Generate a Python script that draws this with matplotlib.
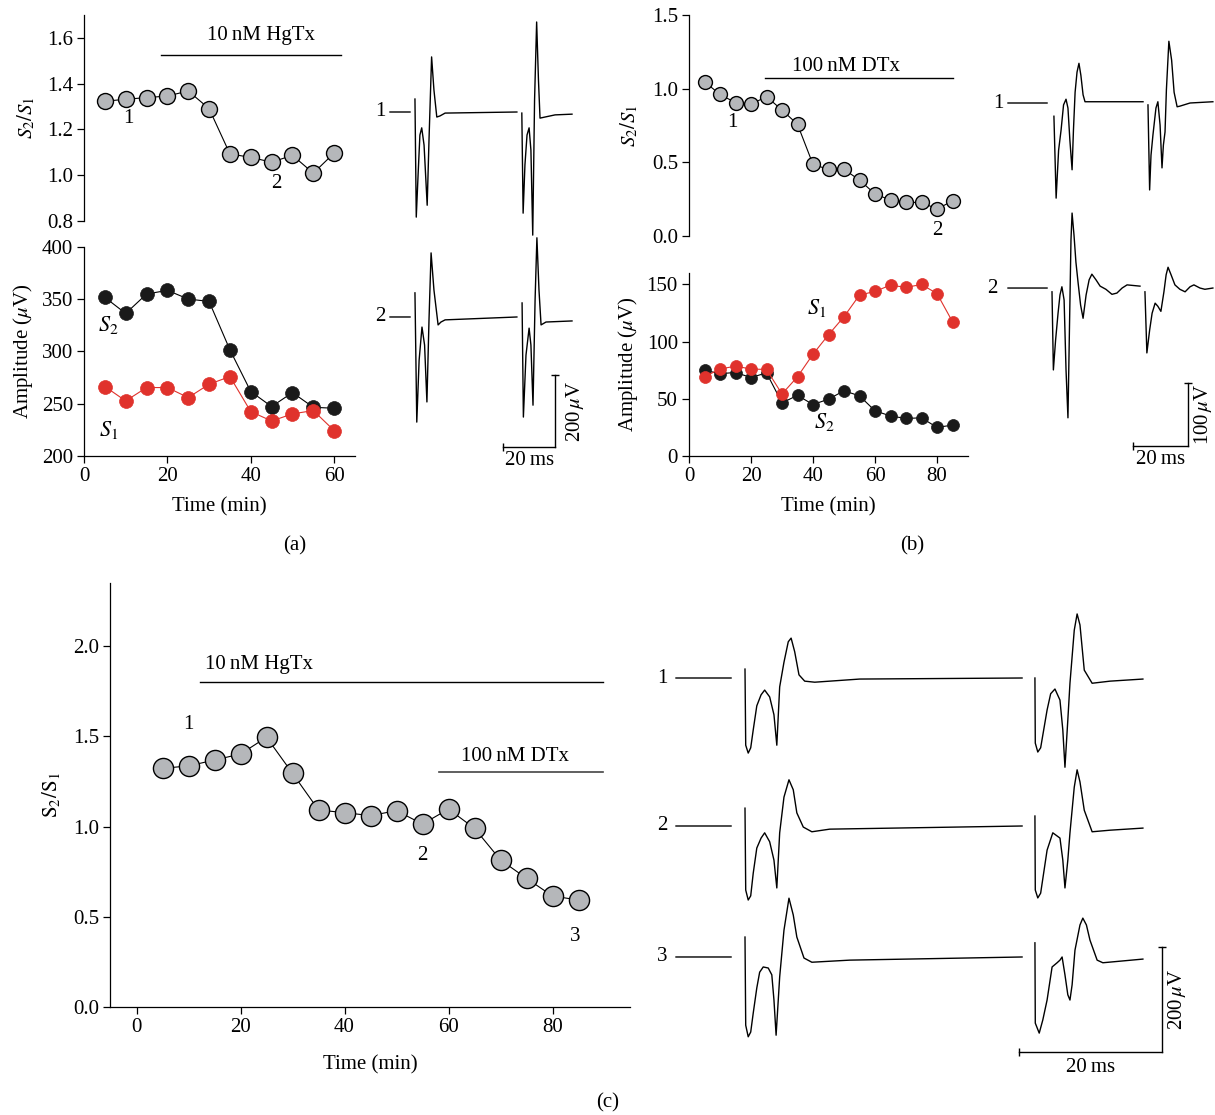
import numpy as np
import matplotlib
matplotlib.use("Agg")
import matplotlib.pyplot as plt

nan = np.nan

# ---------------- data ----------------
# panel (a): HgTx
a_time = [5, 10, 15, 20, 25, 30, 35, 40, 45, 50, 55, 60]
a_ratio = [1.323, 1.332, 1.339, 1.346, 1.368, 1.291, 1.093, 1.078, 1.057, 1.087, 1.009, 1.097]
a_s2 = [351.8, 336.4, 355.0, 358.5, 350.2, 347.9, 301.6, 261.7, 247.3, 260.7, 246.6, 245.7]
a_s1 = [266.5, 252.7, 265.5, 265.5, 255.9, 268.7, 276.0, 242.5, 233.5, 240.3, 243.5, 224.3]
a_drug = (18.5, 61.6)

# panel (b): DTx
b_time = [5, 10, 15, 20, 25, 30, 35, 40, 45, 50, 55, 60, 65, 70, 75, 80, 85]
b_ratio = [1.047, 0.961, 0.905, 0.894, 0.946, 0.855, 0.758, 0.486, 0.452, 0.452,
           0.380, 0.285, 0.244, 0.228, 0.228, 0.183, 0.238]
b_s2 = [75, 72, 73, 68.6, 72.7, 46.5, 53, 45, 49.7, 57, 52.6, 39.5, 35, 32.8, 33.4, 25, 27]
b_s1 = [69.3, 76, 78.6, 76, 75.7, 54.2, 69.3, 89, 106, 121.8, 140.7, 143.9, 149.4,
        147.4, 150, 142, 117.4]
b_drug = (24.5, 85.2)

# panel (c): HgTx then DTx
c_time = [5, 10, 15, 20, 25, 30, 35, 40, 45, 50, 55, 60, 65, 70, 75, 80, 85]
c_ratio = [1.323, 1.336, 1.369, 1.402, 1.495, 1.295, 1.092, 1.077, 1.061, 1.088,
           1.014, 1.097, 0.990, 0.815, 0.713, 0.615, 0.593]
c_hgtx = (12.2, 89.7)
c_dtx = (58.1, 89.7)

# example field potential traces (time in ms, voltage in uV relative to baseline)
a1_t = [0, 7.7, nan, 9.6, 10.1, 10.8, 11.5, 12.2, 13.1, 14.3, 15.0, 16.0, 16.9, 18.0, 19.2, 21.2, 48.8,
        nan, 50.7, 51.2, 51.9, 52.7, 53.5, 54.2, 54.9, 55.6, 56.4, 57.1, 57.7, 59.6, 63.5, 70]
a1_v = [0, 0, nan, 36, -292, -175, -64, -44, -92, -259, -78, 153, 61, -14, -11, -3, 0,
        nan, -3, -281, -147, -64, -44, -106, -342, 33, 250, 89, -17, -14, -8, -6]
a2_t = [0, 7.7, nan, 9.6, 10.3, 11.2, 12.3, 13.3, 14.2, 15.0, 15.8, 16.9, 18.5, 19.6, 21.2, 48.8,
        nan, 50.8, 51.3, 52.3, 53.5, 54.2, 55.0, 55.8, 56.5, 57.3, 58.1, 60.0, 70]
a2_v = [0, 0, nan, 67, -292, -120, -28, -78, -236, -8, 178, 75, -22, -14, -8, 0,
        nan, 39, -278, -106, -31, -78, -245, 47, 220, 75, -22, -14, -11]

b1_t = [0, 14.2, nan, 16.7, 17.5, 18.4, 19.3, 20.2, 21.1, 21.8, 22.5, 23.3, 23.8, 24.4, 25.1, 25.8, 26.5,
        27.3, 28.0, 49.1, nan, 50.9, 51.5, 52.0, 52.7, 53.8, 54.5, 55.3, 56.0, 56.5, 57.1, 57.6, 58.5,
        59.5, 60.4, 61.5, 62.5, 66.2, 74.5]
b1_v = [0, 0, nan, -21, -151, -75, -43, -3, 6, -8, -59, -106, -43, 17, 49, 63, 44,
        13, 2, 2, nan, -3, -138, -83, -51, -8, 2, -35, -103, -67, -46, 21, 98,
        68, 17, -6, -5, 0, 2]
b2_t = [0, 14.2, nan, 16.0, 16.5, 17.3, 18.2, 18.9, 19.6, 20.4, 21.1, 21.8, 22.4, 22.9, 23.3, 24.0, 24.7,
        25.5, 26.4, 27.3, 28.4, 29.5, 30.5, 32.0, 33.5, 35.6, 37.8, 39.6, 41.5, 43.3, 48.0,
        nan, 49.8, 50.5, 51.5, 52.4, 53.5, 54.5, 55.6, 56.7, 57.5, 58.2, 59.3, 60.7, 62.5, 64.4,
        66.2, 67.6, 69.8, 71.6, 74.5]
b2_v = [0, 0, nan, -6, -130, -83, -40, -11, 2, -19, -130, -206, -51, 76, 119, 84, 41,
        8, -27, -48, -11, 13, 22, 13, 3, -2, -10, -8, 0, 5, 3,
        nan, -6, -103, -67, -40, -24, -29, -37, -6, 21, 33, 21, 5, -2, -6,
        2, 5, 0, -2, 0]

c1_t = [0, 7.7, nan, 9.65, 9.75, 10.1, 10.45, 10.8, 11.3, 11.9, 12.4, 13.1, 13.7, 14.1, 14.5, 15.1, 15.7,
        16.1, 16.6, 17.2, 18.0, 19.4, 25.7, 48.4, nan, 50.2, 50.25, 50.6, 51.0, 51.9, 52.4, 53.0, 53.7,
        54.1, 54.4, 54.8, 55.1, 55.7, 56.1, 56.5, 57.1, 58.2, 60.7, 65.3]
c1_v = [0, 0, nan, 17, -128, -143, -133, -99, -53, -32, -23, -36, -70, -128, -17, 30, 69,
        76, 50, 6, -6, -8, -2, 0, nan, 0, -124, -141, -133, -61, -30, -21, -42,
        -99, -170, -80, -10, 91, 122, 101, 15, -10, -6, -2]
c2_t = [0, 7.7, nan, 9.65, 9.75, 10.1, 10.45, 10.8, 11.3, 11.9, 12.4, 13.1, 13.7, 14.1, 14.5, 15.1, 15.8,
        16.4, 16.9, 17.8, 19.0, 21.5, 48.4, nan, 50.2, 50.25, 50.6, 51.0, 51.9, 52.7, 53.7, 54.1,
        54.4, 54.8, 55.1, 55.7, 56.1, 56.5, 57.1, 58.2, 60.7, 65.3]
c2_v = [0, 0, nan, 34, -122, -141, -133, -90, -42, -23, -13, -30, -65, -118, -13, 55, 88,
        69, 25, -2, -11, -6, 0, nan, 19, -122, -137, -128, -46, -13, -23, -65,
        -118, -65, -13, 74, 107, 84, 30, -11, -8, -4]
c3_t = [0, 7.7, nan, 9.65, 9.75, 10.1, 10.45, 10.8, 11.3, 11.7, 12.2, 12.9, 13.4, 13.7, 14.0, 14.5,
        15.1, 15.8, 16.4, 16.9, 17.9, 19.0, 24.3, 48.4, nan, 50.2, 50.25, 50.8, 51.3, 51.9, 52.6, 53.3,
        53.7, 54.0, 54.4, 54.8, 55.1, 55.4, 55.8, 56.5, 56.9, 57.4, 57.9, 58.9, 59.7, 65.3]
c3_v = [0, 0, nan, 38, -130, -152, -143, -107, -59, -29, -19, -21, -34, -82, -149, -38,
        51, 112, 80, 38, -2, -10, -6, 0, nan, 27, -126, -145, -120, -82, -19, -11,
        -6, 0, -34, -72, -82, -53, 13, 61, 74, 61, 32, -6, -11, -4]

# ---------------- style ----------------
plt.rcParams['font.family'] = ['Liberation Serif', 'DejaVu Serif']
plt.rcParams['mathtext.fontset'] = 'stix'
plt.rcParams['font.size'] = 15

GRAY = '#b5b7ba'
RED = '#e0322c'
BLACK = '#1a1a1a'
FS = 15

W, H = 1215, 1115
fig = plt.figure(figsize=(W / 100, H / 100), dpi=100)


def rect(l, t, r, b):
    return [l / W, 1 - b / H, (r - l) / W, (b - t) / H]


def style(ax, bottom=True):
    ax.spines['top'].set_visible(False)
    ax.spines['right'].set_visible(False)
    for s in ('left', 'bottom'):
        ax.spines[s].set_linewidth(0.9)
    ax.tick_params(direction='out', length=5, width=0.9, labelsize=FS, pad=3)
    if not bottom:
        ax.spines['bottom'].set_visible(False)
        ax.tick_params(axis='x', bottom=False, labelbottom=False)
    ax.patch.set_alpha(0)


def ratio_plot(ax, t, r, ms):
    ax.plot(t, r, color='black', lw=0.8, zorder=2, clip_on=False)
    ax.plot(t, r, 'o', ms=ms, mfc=GRAY, mec='black', mew=1.0, zorder=3, ls='none', clip_on=False)


def amp_plot(ax, t, s2, s1, ms):
    ax.plot(t, s2, color='black', lw=0.8, zorder=2, clip_on=False)
    ax.plot(t, s2, 'o', ms=ms, mfc=BLACK, mec=BLACK, mew=0.5, ls='none', zorder=3, clip_on=False)
    ax.plot(t, s1, color=RED, lw=0.8, zorder=4, clip_on=False)
    ax.plot(t, s1, 'o', ms=ms, mfc=RED, mec=RED, mew=0.5, ls='none', zorder=5, clip_on=False)


def fmt1(ax, ticks):
    ax.set_yticks(ticks)
    ax.set_yticklabels([f'{v:.1f}' for v in ticks])


# ---------------- panel (a) ----------------
ax = fig.add_axes(rect(84, 15, 355, 221))
style(ax, bottom=False)
ax.set_xlim(0, 65)
ax.set_ylim(0.8, 1.7)
fmt1(ax, [0.8, 1.0, 1.2, 1.4, 1.6])
ratio_plot(ax, a_time, a_ratio, 11.5)
ax.plot(a_drug, [1.526, 1.526], color='black', lw=1.0, clip_on=False)
ax.text(42.4, 1.61, '10\u2009nM HgTx', ha='center', va='center', fontsize=FS)
ax.text(10.6, 1.248, '1', ha='center', va='center', fontsize=FS)
ax.text(46.2, 0.965, '2', ha='center', va='center', fontsize=FS)
ax.set_ylabel(r'$S_2/S_1$', fontsize=FS, labelpad=7)

ax = fig.add_axes(rect(84, 247, 355, 456))
style(ax)
ax.set_xlim(0, 65)
ax.set_ylim(200, 400)
ax.set_yticks([200, 250, 300, 350, 400])
ax.set_xticks([0, 20, 40, 60])
amp_plot(ax, a_time, a_s2, a_s1, 10)
ax.text(5.8, 325, r'$S_2$', ha='center', va='center', fontsize=FS + 1)
ax.text(5.8, 225, r'$S_1$', ha='center', va='center', fontsize=FS + 1)
ax.set_ylabel(r'Amplitude ($\mu$V)', fontsize=FS, labelpad=5)
ax.set_xlabel('Time (min)', fontsize=FS, labelpad=8)

# ---------------- panel (b) ----------------
ax = fig.add_axes(rect(689, 15, 968, 236))
style(ax, bottom=False)
ax.set_xlim(0, 90)
ax.set_ylim(0, 1.5)
fmt1(ax, [0.0, 0.5, 1.0, 1.5])
ratio_plot(ax, b_time, b_ratio, 10)
ax.plot(b_drug, [1.07, 1.07], color='black', lw=1.0, clip_on=False)
ax.text(50.8, 1.15, '100\u2009nM DTx', ha='center', va='center', fontsize=FS)
ax.text(14.1, 0.77, '1', ha='center', va='center', fontsize=FS)
ax.text(80.0, 0.04, '2', ha='center', va='center', fontsize=FS)
ax.set_ylabel(r'$S_2/S_1$', fontsize=FS, labelpad=8)

ax = fig.add_axes(rect(689, 273, 968, 456))
style(ax)
ax.set_xlim(0, 90)
ax.set_ylim(0, 160)
ax.set_yticks([0, 50, 100, 150])
ax.set_xticks([0, 20, 40, 60, 80])
amp_plot(ax, b_time, b_s2, b_s1, 8.6)
ax.text(41.2, 129, r'$S_1$', ha='center', va='center', fontsize=FS + 1)
ax.text(43.7, 29.6, r'$S_2$', ha='center', va='center', fontsize=FS + 1)
ax.set_ylabel(r'Amplitude ($\mu$V)', fontsize=FS, labelpad=5)
ax.set_xlabel('Time (min)', fontsize=FS, labelpad=8)

# ---------------- panel (c) ----------------
ax = fig.add_axes(rect(110, 583, 630, 1007))
style(ax)
ax.set_xlim(-5.1, 94.9)
ax.set_ylim(0, 2.35)
fmt1(ax, [0.0, 0.5, 1.0, 1.5, 2.0])
ax.set_xticks([0, 20, 40, 60, 80])
ratio_plot(ax, c_time, c_ratio, 14.5)
ax.plot(c_hgtx, [1.803, 1.803], color='black', lw=1.0, clip_on=False)
ax.plot(c_dtx, [1.30, 1.30], color='#444444', lw=1.2, clip_on=False)
ax.text(13.1, 1.896, '10\u2009nM HgTx', ha='left', va='center', fontsize=FS)
ax.text(72.8, 1.386, '100\u2009nM DTx', ha='center', va='center', fontsize=FS)
ax.text(9.9, 1.563, '1', ha='center', va='center', fontsize=FS)
ax.text(55.0, 0.837, '2', ha='center', va='center', fontsize=FS)
ax.text(84.4, 0.388, '3', ha='center', va='center', fontsize=FS)
ax.set_ylabel(r'$\mathrm{S_2/S_1}$', fontsize=FS, labelpad=8)
ax.set_xlabel('Time (min)', fontsize=FS, labelpad=13)


# ---------------- traces ----------------
def trace_axes(box, origin, px_per_ms, px_per_uv):
    l, t, r, b = box
    x0, y0 = origin
    tax = fig.add_axes(rect(l, t, r, b))
    tax.set_xlim((l - x0) / px_per_ms, (r - x0) / px_per_ms)
    tax.set_ylim((y0 - b) / px_per_uv, (y0 - t) / px_per_uv)
    tax.axis('off')
    return tax


def scalebar(tax, t_end, v_base, t_len, v_len, tlab, vlab, tlab_dv, vlab_dt):
    tax.plot([t_end - t_len, t_end], [v_base, v_base], color='black', lw=1.0)
    tax.plot([t_end, t_end], [v_base, v_base + v_len], color='black', lw=1.0)
    tax.plot([t_end - t_len], [v_base], marker='|', ms=6, mew=1.0, color='black')
    tax.plot([t_end], [v_base + v_len], marker='_', ms=6, mew=1.0, color='black')
    tax.text(t_end - t_len / 2, v_base - tlab_dv, tlab, ha='center', va='top', fontsize=FS)
    tax.text(t_end + vlab_dt, v_base + v_len / 2, vlab, ha='center', va='center',
             rotation=90, fontsize=FS)


LW_TR = 1.0

# (a) traces
tax = trace_axes((372, 10, 592, 478), (390, 112), 2.6, 0.36)
a_off = [0, -569.4]
tax.plot(a1_t, np.array(a1_v) + a_off[0], color='black', lw=LW_TR)
tax.plot(a2_t, np.array(a2_v) + a_off[1], color='black', lw=LW_TR)
for lab, off in zip(['1', '2'], a_off):
    tax.text(-1.9, off, lab, ha='right', va='center', fontsize=FS)
scalebar(tax, 63.5, -931, 20, 200, '20\u2009ms', r'200$\,\mu$V', 10, 7.7)

# (b) traces
tax = trace_axes((985, 10, 1215, 478), (1008, 103), 2.75, 0.63)
b_off = [0, -293.7]
tax.plot(b1_t, np.array(b1_v) + b_off[0], color='black', lw=LW_TR)
tax.plot(b2_t, np.array(b2_v) + b_off[1], color='black', lw=LW_TR)
tax.text(-1.5, b_off[0], '1', ha='right', va='center', fontsize=FS)
tax.text(-4.0, b_off[1], '2', ha='right', va='center', fontsize=FS)
scalebar(tax, 65.5, -544, 20, 100, '20\u2009ms', r'100$\,\mu$V', 6, 5.5)

# (c) traces
tax = trace_axes((645, 600, 1215, 1085), (676, 678), 7.15, 0.525)
c_off = [0, -281.9, -531.4]
for tt, vv, off in zip([c1_t, c2_t, c3_t], [c1_v, c2_v, c3_v], c_off):
    tax.plot(tt, np.array(vv) + off, color='black', lw=LW_TR)
for lab, off in zip(['1', '2', '3'], c_off):
    tax.text(-1.2, off, lab, ha='right', va='center', fontsize=FS)
scalebar(tax, 68, -712, 20, 200, '20\u2009ms', r'200$\,\mu$V', 12, 2.1)

# panel letters
fig.text(295 / W, 1 - 546 / H, '(a)', ha='center', va='center', fontsize=FS)
fig.text(912 / W, 1 - 546 / H, '(b)', ha='center', va='center', fontsize=FS)
fig.text(608 / W, 1 - 1103 / H, '(c)', ha='center', va='center', fontsize=FS)

fig.savefig('out.png', dpi=100)
